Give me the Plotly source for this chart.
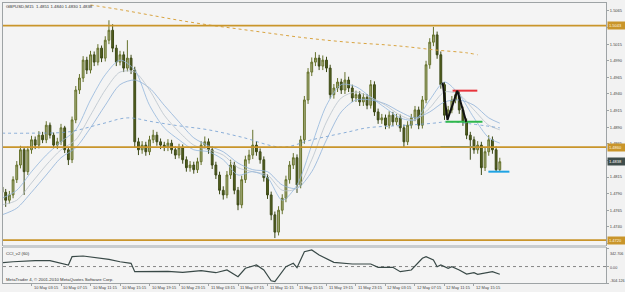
import plotly.graph_objects as go

# ---------------- data (30-minute bars, index 0..135) ----------------
bar_idx = list(range(136))
opens = [1.4800, 1.4792, 1.4780, 1.4788, 1.4811, 1.4833, 1.4856, 1.4823, 1.4856, 1.4871,
         1.4863, 1.4878, 1.4871, 1.4893, 1.4878, 1.4863, 1.4868, 1.4889, 1.4856, 1.4841,
         1.4901, 1.4946, 1.4964, 1.4991, 1.4976, 1.4999, 1.4988, 1.5009, 1.4994, 1.5021,
         1.5036, 1.5009, 1.4988, 1.4999, 1.4979, 1.4994, 1.4976, 1.4868, 1.4856, 1.4863,
         1.4853, 1.4871, 1.4878, 1.4868, 1.4863, 1.4860, 1.4866, 1.4856, 1.4848, 1.4859,
         1.4841, 1.4829, 1.4833, 1.4826, 1.4838, 1.4863, 1.4868, 1.4856, 1.4833, 1.4818,
         1.4795, 1.4788, 1.4818, 1.4833, 1.4795, 1.4773, 1.4811, 1.4841, 1.4848, 1.4863,
         1.4853, 1.4841, 1.4814, 1.4788, 1.4758, 1.4732, 1.4765, 1.4783, 1.4811, 1.4833,
         1.4844, 1.4803, 1.4871, 1.4931, 1.4973, 1.4988, 1.4994, 1.4982, 1.4991, 1.4979,
         1.4939, 1.4949, 1.4958, 1.4946, 1.4961, 1.4949, 1.4934, 1.4939, 1.4928, 1.4935,
         1.4923, 1.4954, 1.4913, 1.4901, 1.4904, 1.4893, 1.4908, 1.4898, 1.4904, 1.4889,
         1.4868, 1.4893, 1.4904, 1.4916, 1.4893, 1.4931, 1.4984, 1.5018, 1.5029, 1.4999,
         1.4954, 1.4908, 1.4916, 1.4931, 1.4939, 1.4916, 1.4898, 1.4878, 1.4871, 1.4856,
         1.4863, 1.4829, 1.4853, 1.4871, 1.4856, 1.4826]
closes = [1.4792, 1.4780, 1.4788, 1.4811, 1.4833, 1.4856, 1.4823, 1.4856, 1.4871, 1.4863,
          1.4878, 1.4871, 1.4893, 1.4878, 1.4863, 1.4868, 1.4889, 1.4856, 1.4841, 1.4901,
          1.4946, 1.4964, 1.4991, 1.4976, 1.4999, 1.4988, 1.5009, 1.4994, 1.5021, 1.5036,
          1.5009, 1.4988, 1.4999, 1.4979, 1.4994, 1.4976, 1.4868, 1.4856, 1.4863, 1.4853,
          1.4871, 1.4878, 1.4868, 1.4863, 1.4860, 1.4866, 1.4856, 1.4848, 1.4859, 1.4841,
          1.4829, 1.4833, 1.4826, 1.4838, 1.4863, 1.4868, 1.4856, 1.4833, 1.4818, 1.4795,
          1.4788, 1.4818, 1.4833, 1.4795, 1.4773, 1.4811, 1.4841, 1.4848, 1.4863, 1.4853,
          1.4841, 1.4814, 1.4788, 1.4758, 1.4732, 1.4765, 1.4783, 1.4811, 1.4833, 1.4844,
          1.4803, 1.4871, 1.4931, 1.4973, 1.4988, 1.4994, 1.4982, 1.4991, 1.4979, 1.4939,
          1.4949, 1.4958, 1.4946, 1.4961, 1.4949, 1.4934, 1.4939, 1.4928, 1.4935, 1.4923,
          1.4954, 1.4913, 1.4901, 1.4904, 1.4893, 1.4908, 1.4898, 1.4904, 1.4889, 1.4868,
          1.4893, 1.4904, 1.4916, 1.4893, 1.4931, 1.4984, 1.5018, 1.5029, 1.4999, 1.4954,
          1.4908, 1.4916, 1.4931, 1.4939, 1.4916, 1.4898, 1.4878, 1.4871, 1.4856, 1.4863,
          1.4829, 1.4853, 1.4871, 1.4856, 1.4826, 1.4838]
highs = [1.4808, 1.4797, 1.4794, 1.4816, 1.4839, 1.4862, 1.4860, 1.4861, 1.4877, 1.4876,
         1.4884, 1.4883, 1.4899, 1.4897, 1.4882, 1.4874, 1.4895, 1.4892, 1.4860, 1.4906,
         1.4952, 1.4970, 1.4997, 1.4996, 1.5005, 1.5004, 1.5015, 1.5013, 1.5027, 1.5051,
         1.5045, 1.5014, 1.5005, 1.5004, 1.5021, 1.4999, 1.4981, 1.4874, 1.4869, 1.4868,
         1.4877, 1.4886, 1.4883, 1.4873, 1.4868, 1.4872, 1.4871, 1.4861, 1.4865, 1.4864,
         1.4846, 1.4839, 1.4838, 1.4844, 1.4869, 1.4876, 1.4873, 1.4861, 1.4838, 1.4823,
         1.4801, 1.4824, 1.4841, 1.4838, 1.4800, 1.4817, 1.4847, 1.4856, 1.4886, 1.4869,
         1.4858, 1.4846, 1.4819, 1.4793, 1.4763, 1.4771, 1.4789, 1.4817, 1.4839, 1.4851,
         1.4849, 1.4877, 1.4937, 1.4979, 1.4995, 1.5003, 1.4999, 1.4998, 1.4996, 1.4984,
         1.4955, 1.4964, 1.4963, 1.4973, 1.4966, 1.4954, 1.4945, 1.4944, 1.4941, 1.4940,
         1.4961, 1.4959, 1.4918, 1.4910, 1.4909, 1.4914, 1.4913, 1.4910, 1.4909, 1.4894,
         1.4899, 1.4910, 1.4922, 1.4921, 1.4937, 1.4990, 1.5024, 1.5041, 1.5034, 1.5004,
         1.4958, 1.4922, 1.4937, 1.4946, 1.4944, 1.4921, 1.4903, 1.4883, 1.4876, 1.4869,
         1.4868, 1.4859, 1.4878, 1.4876, 1.4861, 1.4844]
lows = [1.4785, 1.4770, 1.4775, 1.4783, 1.4806, 1.4828, 1.4788, 1.4818, 1.4850, 1.4857,
        1.4858, 1.4866, 1.4866, 1.4873, 1.4858, 1.4857, 1.4863, 1.4851, 1.4833, 1.4836,
        1.4896, 1.4940, 1.4958, 1.4970, 1.4971, 1.4982, 1.4983, 1.4988, 1.4989, 1.5015,
        1.5003, 1.4982, 1.4983, 1.4973, 1.4974, 1.4970, 1.4859, 1.4848, 1.4850, 1.4847,
        1.4848, 1.4866, 1.4862, 1.4857, 1.4854, 1.4854, 1.4850, 1.4842, 1.4843, 1.4835,
        1.4823, 1.4823, 1.4820, 1.4821, 1.4833, 1.4858, 1.4850, 1.4827, 1.4812, 1.4789,
        1.4781, 1.4783, 1.4812, 1.4789, 1.4765, 1.4768, 1.4806, 1.4835, 1.4842, 1.4847,
        1.4835, 1.4808, 1.4782, 1.4750, 1.4723, 1.4727, 1.4759, 1.4777, 1.4805, 1.4827,
        1.4791, 1.4798, 1.4865, 1.4925, 1.4967, 1.4982, 1.4976, 1.4976, 1.4973, 1.4933,
        1.4933, 1.4943, 1.4940, 1.4940, 1.4943, 1.4928, 1.4928, 1.4922, 1.4922, 1.4917,
        1.4918, 1.4907, 1.4895, 1.4895, 1.4887, 1.4888, 1.4892, 1.4893, 1.4883, 1.4860,
        1.4863, 1.4888, 1.4899, 1.4887, 1.4888, 1.4926, 1.4978, 1.5012, 1.4993, 1.4948,
        1.4901, 1.4902, 1.4911, 1.4926, 1.4910, 1.4892, 1.4872, 1.4841, 1.4850, 1.4850,
        1.4818, 1.4824, 1.4847, 1.4850, 1.4823, 1.4824]

# moving averages, sampled every 4 bars
ma_idx = [0, 4, 8, 12, 16, 20, 24, 28, 32, 36, 40, 44, 48, 52, 56, 60, 64, 68, 72, 76,
          80, 84, 88, 92, 96, 100, 104, 108, 112, 116, 120, 124, 128, 132, 135]
ma_fast = [1.4783, 1.4795, 1.4823, 1.4848, 1.4868, 1.4886, 1.4931, 1.4969, 1.4991, 1.4976,
           1.4923, 1.4889, 1.4871, 1.4856, 1.4853, 1.4841, 1.4818, 1.4823, 1.4814, 1.4780,
           1.4803, 1.4863, 1.4923, 1.4954, 1.4951, 1.4935, 1.4919, 1.4904, 1.4901, 1.4931,
           1.4958, 1.4939, 1.4904, 1.4874, 1.4866]
ma_mid = [1.4773, 1.4780, 1.4806, 1.4833, 1.4856, 1.4871, 1.4908, 1.4946, 1.4973, 1.4973,
          1.4946, 1.4908, 1.4883, 1.4863, 1.4856, 1.4848, 1.4829, 1.4823, 1.4818, 1.4795,
          1.4798, 1.4841, 1.4898, 1.4934, 1.4943, 1.4935, 1.4923, 1.4908, 1.4901, 1.4919,
          1.4943, 1.4939, 1.4916, 1.4893, 1.4886]
ma_slow = [1.4758, 1.4768, 1.4792, 1.4818, 1.4844, 1.4859, 1.4889, 1.4923, 1.4954, 1.4961,
           1.4949, 1.4923, 1.4898, 1.4874, 1.4862, 1.4853, 1.4836, 1.4826, 1.4823, 1.4803,
           1.4798, 1.4823, 1.4871, 1.4913, 1.4931, 1.4931, 1.4925, 1.4913, 1.4904, 1.4913,
           1.4928, 1.4931, 1.4923, 1.4904, 1.4896]
ma_long_idx = [0, 8, 18, 27, 34, 41, 48, 56, 65, 76, 84, 94, 99, 110, 117, 121, 135]
ma_long = [1.4881, 1.4881, 1.4883, 1.4895, 1.4904, 1.4898, 1.4892, 1.4886, 1.4875, 1.4860,
           1.4871, 1.4883, 1.4889, 1.4893, 1.4896, 1.4898, 1.4889]
ma_200_idx = [24, 32, 40, 48, 56, 64, 72, 80, 88, 96, 104, 110, 118, 126, 129]
ma_200 = [1.5074, 1.5067, 1.5059, 1.5051, 1.5044, 1.5038, 1.5032, 1.5026, 1.5021, 1.5017,
          1.5014, 1.5011, 1.5006, 1.5002, 1.4999]

# CCI_v2 (60)
cci_idx = [0, 3, 9, 13, 18, 19, 22, 27, 29, 32, 35, 36, 40, 45, 49, 54, 58, 61, 64, 66,
           69, 71, 73, 74, 77, 79, 80, 82, 84, 86, 90, 92, 95, 100, 102, 106, 108, 111,
           114, 115, 117, 118, 119, 121, 122, 124, 126, 128, 129, 133, 135]
cci_val = [71, 89, 108, 108, 29, 182, 195, 152, 134, 89, 60, -95, -95, -88, -106, -77,
           -114, -64, -188, -32, 29, -64, -262, -280, -3, 60, -21, 274, 306, 213, 78, 71,
           47, 47, -14, -14, -95, -64, 152, 182, 121, -3, 29, -32, -3, -64, -138, -114,
           -143, -95, -143]
cci_max = 342.706
cci_min = -304.126

# horizontal levels and drawings
levels = [1.5043, 1.4860, 1.4720]
level_labels = ["1.5043", "1.4860", "1.4720"]
current_price = 1.4838
zigzag_x = [119.5, 120.8, 123.5, 125.9]
zigzag_y = [1.4957, 1.4901, 1.4945, 1.4898]
seg_red = ([122.2, 128.9], [1.4945, 1.4945])
seg_green = ([120.3, 130.3], [1.4898, 1.4898])
seg_blue1 = ([118.9, 128.6], [1.4860, 1.4860])
seg_blue2 = ([131.9, 137.6], [1.4823, 1.4823])

# tick labels hidden behind the price boxes in the reference are left blank
price_ticks = [1.5065, 1.5040, 1.5015, 1.4990, 1.4965, 1.4940, 1.4915, 1.4890, 1.4865,
               1.4840, 1.4815, 1.4790, 1.4765, 1.4740, 1.4715]
price_tick_text = ["1.5065", "", "1.5015", "1.4990", "1.4965", "1.4940", "1.4915", "1.4890",
                   "1.4865", "", "1.4815", "1.4790", "1.4765", "1.4740", ""]
time_tick_idx = [0, 8, 16, 24, 32, 40, 48, 56, 64, 72, 80, 88, 96, 104, 112, 120, 128]
time_labels = ["9 May 2010", "10 May 03:15", "10 May 07:15", "10 May 11:15", "10 May 15:15",
               "10 May 19:15", "10 May 23:15", "11 May 03:15", "11 May 07:15", "11 May 11:15",
               "11 May 15:15", "11 May 19:15", "11 May 23:15", "12 May 03:15", "12 May 07:15",
               "12 May 11:15", "12 May 15:15"]

# ---------------- figure ----------------
W, H = 625, 292
ML, MR, MT, MB = 2, 18, 3, 9
PW, PH = W - ML - MR, H - MT - MB


def py(Y):
    return (H - MB - Y) / PH


def px(X):
    return (X - ML) / PW


FONT = "Liberation Sans"
GRID = "#9ea3a5"

fig = go.Figure()

for ys, col, w in [(ma_slow, "#8fb1d8", 0.8), (ma_mid, "#b9c3cb", 0.8), (ma_fast, "#93b6dc", 0.8)]:
    fig.add_trace(go.Scatter(x=ma_idx, y=ys, mode="lines", xaxis="x", yaxis="y",
                             line=dict(color=col, width=w, shape="spline", smoothing=0.8),
                             hoverinfo="skip", showlegend=False))
fig.add_trace(go.Scatter(x=ma_long_idx, y=ma_long, mode="lines", xaxis="x", yaxis="y",
                         line=dict(color="#6e9cd0", width=0.8, dash="dot", shape="spline"),
                         hoverinfo="skip", showlegend=False))
fig.add_trace(go.Scatter(x=ma_200_idx, y=ma_200, mode="lines", xaxis="x", yaxis="y",
                         line=dict(color="#d9a441", width=1, dash="dot", shape="spline"),
                         hoverinfo="skip", showlegend=False))

fig.add_trace(go.Candlestick(x=bar_idx, open=opens, high=highs, low=lows, close=closes,
                             xaxis="x", yaxis="y", whiskerwidth=0,
                             increasing=dict(line=dict(color="#66722c", width=1), fillcolor="#a7ae7c"),
                             decreasing=dict(line=dict(color="#3c4916", width=1), fillcolor="#55611f"),
                             hoverinfo="skip", showlegend=False))

for (sx, sy), col in [(seg_red, "#e8343c"), (seg_green, "#2fb84c"), (seg_blue1, "#1fa3e3"),
                      (seg_blue2, "#1fa3e3")]:
    fig.add_trace(go.Scatter(x=sx, y=sy, mode="lines", xaxis="x", yaxis="y",
                             line=dict(color=col, width=2), hoverinfo="skip", showlegend=False))
fig.add_trace(go.Scatter(x=zigzag_x, y=zigzag_y, mode="lines", xaxis="x", yaxis="y",
                         line=dict(color="#111111", width=2), hoverinfo="skip", showlegend=False))

fig.add_trace(go.Scatter(x=cci_idx, y=cci_val, mode="lines", xaxis="x2", yaxis="y2",
                         line=dict(color="#394947", width=1.2), hoverinfo="skip", showlegend=False))

shapes = []
for lv in levels:
    shapes.append(dict(type="line", xref="x domain", yref="y", x0=0, x1=1, y0=lv, y1=lv,
                       line=dict(color="#c9952a", width=1.6), layer="above"))
shapes.append(dict(type="line", xref="x2 domain", yref="y2", x0=0, x1=1, y0=0, y1=0,
                   line=dict(color="#6a6a6a", width=0.8, dash="dot"), layer="below"))
shapes.append(dict(type="rect", xref="paper", yref="paper", x0=0, x1=1,
                   y0=py(248), y1=py(245), fillcolor="#c9cdcf", line=dict(width=0)))

ann = []
tf = dict(family=FONT, size=4.3, color="#333333")
ann.append(dict(text="GBPUSD,M15  1.4851 1.4840 1.4830 1.4838", xref="paper", yref="paper",
                x=0.002, y=py(6.5), xanchor="left", yanchor="middle", showarrow=False, font=tf))
ann.append(dict(text="CCI_v2 (60)", xref="paper", yref="paper", x=0.002, y=py(253),
                xanchor="left", yanchor="middle", showarrow=False, font=tf))
ann.append(dict(text="MetaTrader 4, © 2001-2010 MetaQuotes Software Corp.", xref="paper",
                yref="paper", x=0.002, y=py(279.5), xanchor="left", yanchor="middle",
                showarrow=False, font=tf))
for ti, tl in zip(time_tick_idx, time_labels):
    ann.append(dict(text=tl, xref="x2", yref="paper", x=ti, y=py(287.5), xanchor="left",
                    yanchor="middle", showarrow=False, font=dict(family=FONT, size=4, color="#444")))
for val, txt, Y in [(cci_max, "342.706", 253.5), (0, "0.00", 267.5), (cci_min, "-304.126", 281)]:
    ann.append(dict(text=txt, xref="paper", yref="paper", x=px(609.5), y=py(Y),
                    xanchor="left", yanchor="middle", showarrow=False,
                    font=dict(family=FONT, size=3.7, color="#444")))
for lv, lt in zip(levels, level_labels):
    ann.append(dict(text=lt, xref="paper", yref="y", x=px(608), y=lv, xanchor="left",
                    yanchor="middle", showarrow=False, bgcolor="#c9952a", borderpad=1,
                    width=15, align="left", font=dict(family=FONT, size=4, color="#fff7e0")))
ann.append(dict(text="1.4838", xref="paper", yref="y", x=px(608), y=current_price,
                xanchor="left", yanchor="middle", showarrow=False, bgcolor="#3f4d4b", borderpad=1,
                width=15, align="left", font=dict(family=FONT, size=4, color="#ffffff")))

fig.update_layout(
    width=W, height=H, margin=dict(l=ML, r=MR, t=MT, b=MB),
    paper_bgcolor="#f2f2f2", plot_bgcolor="#f4f4f4",
    showlegend=False, shapes=shapes, annotations=ann,
    xaxis=dict(domain=[0, 1], range=[0.27, 163.8], anchor="y", showticklabels=False,
               showgrid=False, zeroline=False, showline=True, mirror=True, linecolor=GRID,
               linewidth=1, rangeslider=dict(visible=False), fixedrange=True),
    yaxis=dict(domain=[py(245), 1], range=[1.47126, 1.50770], anchor="x", side="right",
               tickvals=price_ticks, ticktext=price_tick_text,
               tickfont=dict(family=FONT, size=4, color="#444"), ticks="outside", ticklen=2,
               tickcolor=GRID, showgrid=False, zeroline=False, showline=True, mirror=True,
               linecolor=GRID, linewidth=1),
    xaxis2=dict(domain=[0, 1], matches="x", anchor="y2", showticklabels=False,
                showgrid=False, zeroline=False, showline=True, mirror=True, linecolor=GRID,
                linewidth=1, tickvals=time_tick_idx, ticks="outside", ticklen=2, tickcolor=GRID),
    yaxis2=dict(domain=[0, py(248)], range=[cci_min, cci_max], anchor="x2", side="right",
                showticklabels=False, showgrid=False, zeroline=False, showline=True,
                mirror=True, linecolor=GRID, linewidth=1, tickvals=[cci_max, 0, cci_min],
                ticks="outside", ticklen=2, tickcolor=GRID),
)

fig.write_html("out.html")
